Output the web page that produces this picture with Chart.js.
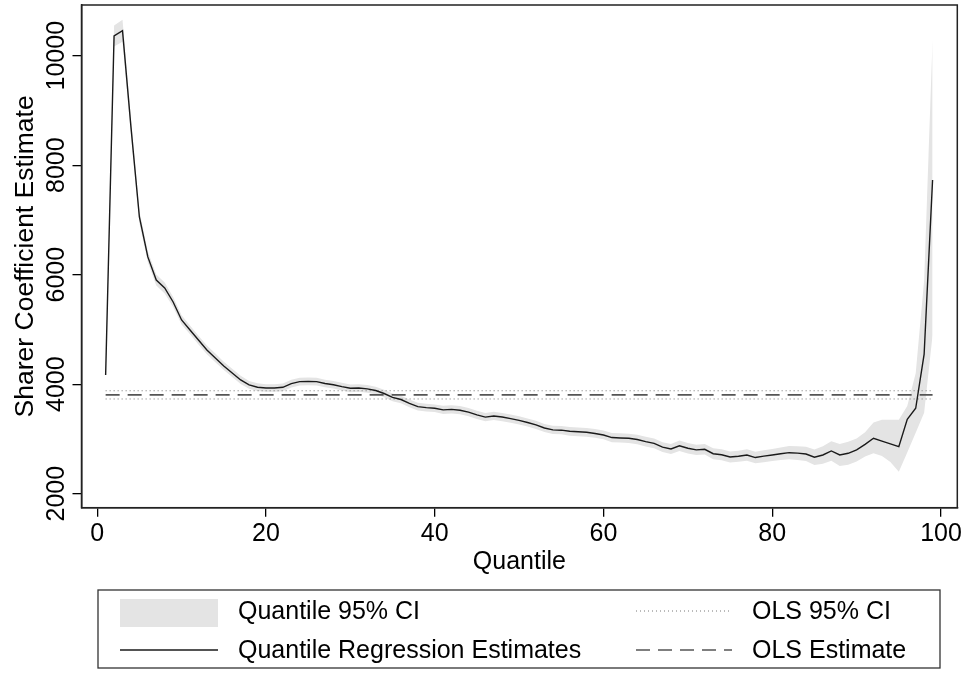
<!DOCTYPE html>
<html><head><meta charset="utf-8">
<script src="https://cdn.jsdelivr.net/npm/chart.js@4/dist/chart.umd.min.js"></script>
<style>html,body{margin:0;padding:0;background:#fff}#wrap{width:968px;height:674px}</style>
</head><body><div id="wrap"><canvas id="c" width="968" height="674"></canvas></div>
<script>
const quantiles = [1,2,3,4,5,6,7,8,9,10,11,12,13,14,15,16,17,18,19,20,21,22,23,24,25,26,27,28,29,30,31,32,33,34,35,36,37,38,39,40,41,42,43,44,45,46,47,48,49,50,51,52,53,54,55,56,57,58,59,60,61,62,63,64,65,66,67,68,69,70,71,72,73,74,75,76,77,78,79,80,81,82,83,84,85,86,87,88,89,90,91,92,93,94,95,96,97,98,99];
const estimates = [4168,10360,10457,8700,7054,6325,5903,5757,5502,5173,4990,4807,4625,4479,4333,4205,4077,3986,3945,3931,3930,3943,4010,4046,4050,4046,4012,3990,3955,3925,3931,3915,3885,3830,3760,3720,3650,3590,3572,3560,3530,3540,3525,3490,3440,3398,3420,3400,3370,3340,3300,3258,3200,3166,3160,3140,3130,3122,3100,3072,3025,3018,3012,2990,2950,2918,2850,2817,2875,2830,2800,2811,2730,2710,2670,2685,2705,2660,2685,2707,2730,2749,2740,2725,2665,2707,2780,2707,2738,2800,2900,3012,2960,2910,2859,3360,3560,4550,7730];
const ciLow = [4108,10170,10257,8550,6944,6225,5803,5657,5412,5088,4910,4727,4545,4399,4258,4130,4002,3916,3875,3861,3860,3873,3940,3976,3980,3976,3942,3920,3885,3855,3861,3845,3815,3760,3690,3650,3580,3520,3502,3490,3455,3465,3450,3415,3365,3323,3345,3325,3295,3265,3225,3183,3125,3091,3085,3060,3050,3042,3020,2992,2940,2933,2927,2905,2860,2828,2760,2727,2780,2735,2705,2716,2630,2610,2570,2585,2600,2555,2575,2597,2615,2629,2615,2595,2525,2547,2600,2507,2528,2590,2680,2740,2690,2580,2400,2750,3115,3480,4900];
const ciHigh = [4228,10550,10657,8850,7164,6425,6003,5857,5592,5258,5070,4887,4705,4559,4408,4280,4152,4056,4015,4001,4000,4013,4080,4116,4120,4116,4082,4060,4025,3995,4001,3985,3955,3900,3830,3790,3720,3660,3642,3630,3605,3615,3600,3565,3515,3473,3495,3475,3445,3415,3375,3333,3275,3241,3235,3220,3210,3202,3180,3152,3110,3103,3097,3075,3040,3008,2940,2907,2970,2925,2895,2906,2830,2810,2770,2785,2810,2765,2795,2817,2845,2869,2865,2855,2805,2867,2960,2907,2948,3010,3120,3300,3350,3350,3350,3600,4200,5900,10305];
const olsEstimate = 3805;
const olsLow = 3730;
const olsHigh = 3880;
const olsRange = [1, 99];
const xTicks = [0,20,40,60,80,100];
const yTicks = [2000,4000,6000,8000,10000];
const labels = {
  band: 'Quantile 95% CI',
  line: 'Quantile Regression Estimates',
  olsCI: 'OLS 95% CI',
  ols: 'OLS Estimate',
  xTitle: 'Quantile',
  yTitle: 'Sharer Coefficient Estimate'
};

const FONT = '"Liberation Sans", Arial, Helvetica, sans-serif';
const FS = 25;
const BAND = '#e4e4e4';

const pts = arr => quantiles.map((q,i)=>({x:q,y:arr[i]}));
const flat = v => olsRange.map(q=>({x:q,y:v}));

const yLabelPlugin = {
  id:'yLabels',
  afterDraw(chart){
    const ctx = chart.ctx, ys = chart.scales.y;
    ctx.save();
    ctx.font = FS + 'px ' + FONT;
    ctx.fillStyle = '#000';
    ctx.textAlign = 'center';
    ctx.textBaseline = 'alphabetic';
    yTicks.forEach(v=>{
      const py = ys.getPixelForValue(v);
      ctx.save();
      ctx.translate(64, py);
      ctx.rotate(-Math.PI/2);
      ctx.fillText(String(v), 0, 0);
      ctx.restore();
    });
    ctx.restore();
  }
};

const framePlugin = {
  id:'frame',
  afterDatasetsDraw(chart){
    const {ctx, chartArea:a} = chart;
    ctx.save();
    ctx.strokeStyle = '#222';
    ctx.lineWidth = 1.5;
    ctx.strokeRect(a.left, a.top, a.right-a.left, a.bottom-a.top);
    ctx.restore();
  }
};

const legendPlugin = {
  id:'boxLegend',
  afterDraw(chart){
    const ctx = chart.ctx;
    const ds = chart.data.datasets;
    ctx.save();
    ctx.strokeStyle = '#333';
    ctx.lineWidth = 1.3;
    ctx.strokeRect(98, 590, 842, 78);
    ctx.fillStyle = ds[1].backgroundColor;
    ctx.fillRect(120, 599, 98, 28);
    const seg = (x1,y,x2,d)=>{
      ctx.save();
      ctx.strokeStyle = d.borderColor; ctx.lineWidth = d.borderWidth;
      ctx.setLineDash(d.borderDash || []);
      ctx.beginPath(); ctx.moveTo(x1,y); ctx.lineTo(x2,y); ctx.stroke();
      ctx.restore();
    };
    seg(120, 650, 218, ds[2]);
    seg(636, 611, 732, ds[4]);
    seg(636, 650, 732, ds[3]);
    ctx.fillStyle = '#000';
    ctx.font = FS + 'px ' + FONT;
    ctx.textAlign = 'left';
    ctx.textBaseline = 'middle';
    ctx.fillText(ds[1].label, 238, 612);
    ctx.fillText(ds[2].label, 238, 651);
    ctx.fillText(ds[4].label, 752, 612);
    ctx.fillText(ds[3].label, 752, 651);
    ctx.restore();
  }
};

new Chart(document.getElementById('c'), {
  type:'line',
  data:{
    datasets:[
      {label:'ciLow', data:pts(ciLow), borderWidth:0, borderColor:'rgba(0,0,0,0)', pointRadius:0, fill:false, order:10},
      {label:labels.band, data:pts(ciHigh), borderWidth:0, borderColor:'rgba(0,0,0,0)', backgroundColor:BAND, pointRadius:0, fill:'-1', order:9},
      {label:labels.line, data:pts(estimates), borderColor:'#1a1a1a', borderWidth:1.4, pointRadius:0, fill:false, order:1},
      {label:labels.ols, data:flat(olsEstimate), borderColor:'#555', borderWidth:1.6, borderDash:[14,8], pointRadius:0, fill:false, order:5},
      {label:labels.olsCI, data:flat(olsLow), borderColor:'#777', borderWidth:1, borderDash:[1,3], pointRadius:0, fill:false, order:6},
      {label:labels.olsCI, data:flat(olsHigh), borderColor:'#777', borderWidth:1, borderDash:[1,3], pointRadius:0, fill:false, order:6}
    ]
  },
  options:{
    responsive:false, animation:false, devicePixelRatio:1,
    layout:{padding:{left:0, top:5, right:10.7, bottom:0}},
    elements:{line:{tension:0}},
    plugins:{legend:{display:false}, tooltip:{enabled:false}, filler:{propagate:false}},
    scales:{
      x:{
        type:'linear', min:-1.86, max:101.93,
        afterBuildTicks:s=>{s.ticks = xTicks.map(v=>({value:v}));},
        afterFit:s=>{s.height = 166.3;},
        grid:{drawOnChartArea:false, drawTicks:true, tickLength:9, color:'#000', lineWidth:1.3},
        border:{display:true, color:'#222', width:1.5},
        ticks:{font:{family:FONT, size:FS}, color:'#000', padding:2, maxRotation:0, autoSkip:false},
        title:{display:true, text:labels.xTitle, font:{family:FONT, size:FS}, color:'#000', padding:{top:0,bottom:97}}
      },
      y:{
        type:'linear', min:1744, max:10926,
        afterBuildTicks:s=>{s.ticks = yTicks.map(v=>({value:v}));},
        afterFit:s=>{s.width = 81.5;},
        grid:{drawOnChartArea:false, drawTicks:true, tickLength:9, color:'#000', lineWidth:1.3},
        border:{display:true, color:'#222', width:1.5},
        ticks:{display:false},
        title:{display:true, text:labels.yTitle, font:{family:FONT, size:26.5}, color:'#000', padding:{top:10,bottom:0}}
      }
    }
  },
  plugins:[yLabelPlugin, framePlugin, legendPlugin]
});
</script>
</body></html>
